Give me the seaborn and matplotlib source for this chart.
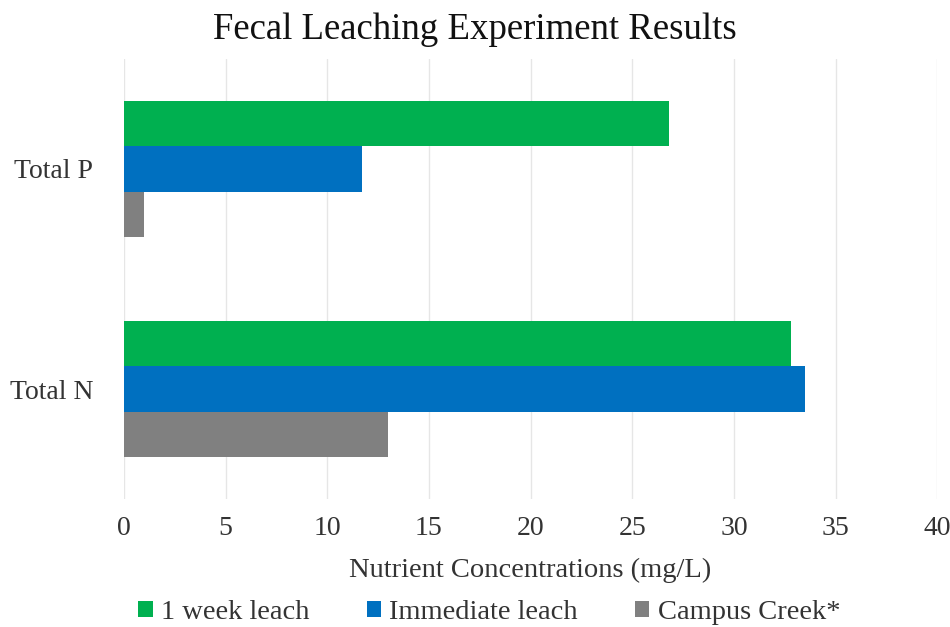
import matplotlib
matplotlib.use("Agg")
import matplotlib.pyplot as plt
import seaborn as sns
import pandas as pd
from matplotlib.patches import Patch

categories = ["Total P", "Total N"]
series = ["1 week leach", "Immediate leach", "Campus Creek*"]
week_leach = [26.8, 32.8]
immediate_leach = [11.7, 33.5]
campus_creek = [1.0, 13.0]
colors = ["#00B050", "#0070C0", "#808080"]
xticks = [0, 5, 10, 15, 20, 25, 30, 35, 40]

rows = []
for name, vals in zip(series, [week_leach, immediate_leach, campus_creek]):
    for c, v in zip(categories, vals):
        rows.append({"Category": c, "Series": name, "Value": v})
df = pd.DataFrame(rows)

sns.set_style("white")
plt.rcParams["font.family"] = ["Liberation Serif", "DejaVu Serif"]

fig = plt.figure(figsize=(9.5, 6.27), dpi=100)
ax = fig.add_axes([0.1305, 0.204, 0.856, 0.702])

sns.barplot(data=df, y="Category", x="Value", hue="Series", order=categories,
            hue_order=series, palette=colors, width=0.62, gap=0, orient="h",
            saturation=1, legend=False, edgecolor="none", ax=ax)

ax.set_xlim(0, 40)
ax.set_ylim(1.5, -0.5)
ax.set_xticks(xticks)
ax.set_xticklabels([str(t) for t in xticks])
ax.xaxis.grid(True, color="#E6E6E6", linewidth=1)
ax.set_axisbelow(True)
for s in ax.spines.values():
    s.set_visible(False)
ax.tick_params(axis="both", length=0, labelsize=20, labelcolor="#333333")
ax.tick_params(axis="x", pad=12)
ax.tick_params(axis="y", pad=22)
ax.set_ylabel("")
ax.set_xlabel("Nutrient Concentrations (mg/L)", fontsize=20.5, color="#333333", labelpad=12)

fig.suptitle("Fecal Leaching Experiment Results", fontsize=26.5, color="#111111", y=0.98)

handles = [Patch(facecolor=c, edgecolor="none") for c in colors]
fig.legend(handles, series, loc="lower center", bbox_to_anchor=(0.515, -0.038), ncol=3,
           frameon=False, fontsize=20.5, handlelength=0.5, handleheight=0.5,
           handletextpad=0.3, columnspacing=2.0, labelcolor="#333333")

fig.savefig("out.png", dpi=100)
